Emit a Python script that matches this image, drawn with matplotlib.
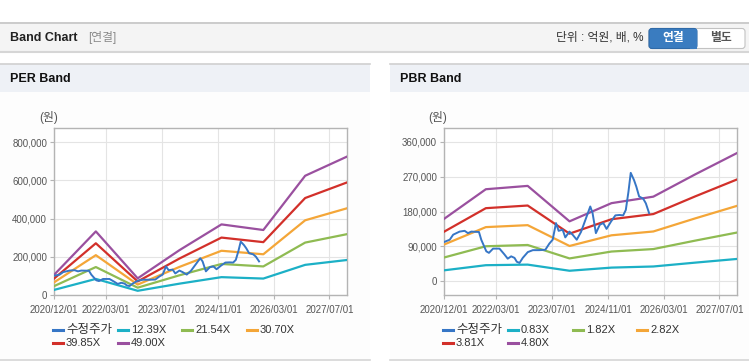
import matplotlib
matplotlib.use("Agg")
import matplotlib.pyplot as plt
import matplotlib.dates as mdates
from matplotlib.patches import Rectangle, FancyBboxPatch
from matplotlib.lines import Line2D
from matplotlib.ticker import FuncFormatter
import numpy as np
import pandas as pd

plt.rcParams['font.family'] = ['Liberation Sans', 'Noto Sans CJK KR', 'DejaVu Sans']

###############################################################################
# data
band_dates = ["2020-12-01", "2021-12-01", "2022-12-01", "2023-12-01",
              "2024-12-01", "2025-12-01", "2026-12-01", "2027-12-01"]
per_eps = [2150, 6800, 1780, 4800, 7550, 6950, 12750, 14800]
per_multiples = [12.39, 21.54, 30.70, 39.85, 49.00]
pbr_bps = [33500, 49500, 51300, 32200, 42000, 45500, 57500, 69000]
pbr_multiples = [0.83, 1.82, 2.82, 3.81, 4.80]

price_dates = [
    "2020-12-01", "2021-01-20", "2021-02-19", "2021-04-16", "2021-05-30",
    "2021-06-28", "2021-07-27", "2021-10-02", "2021-10-22", "2021-12-05",
    "2021-12-28", "2022-02-02", "2022-03-30", "2022-05-12", "2022-06-10",
    "2022-07-10", "2022-08-08", "2022-08-28", "2022-09-21", "2022-10-19",
    "2022-12-02", "2023-01-15", "2023-03-12", "2023-05-04", "2023-06-08",
    "2023-07-07", "2023-08-05", "2023-08-28", "2023-10-02", "2023-10-25",
    "2023-11-30", "2023-12-28", "2024-02-02", "2024-03-10", "2024-04-22",
    "2024-05-30", "2024-06-19", "2024-07-18", "2024-08-22", "2024-09-21",
    "2024-10-19", "2024-11-27", "2025-01-04", "2025-02-08", "2025-03-13",
    "2025-04-05", "2025-04-28", "2025-05-18", "2025-06-16", "2025-07-06",
    "2025-07-30", "2025-09-04", "2025-09-27", "2025-10-25"]
price_k = [
    101, 107, 120, 128, 130, 124, 128, 127, 107, 77,
    73, 84, 84, 69, 58, 64, 60, 50, 47, 60,
    75, 80, 80, 81, 97, 107, 150, 130, 133, 113,
    128, 120, 107, 127, 162, 193, 176, 124, 146, 150,
    135, 154, 170, 171, 170, 184, 231, 280, 261, 244,
    219, 213, 201, 176]

xtick_dates = ["2020-12-01", "2022-03-01", "2023-07-01", "2024-11-01",
               "2026-03-01", "2027-07-01"]

price_label = "수정주가"
band_colors = ["#1cb0c6", "#8fbb52", "#f4a638", "#d2302a", "#9a509f"]
price_color = "#3676c6"

###############################################################################
W, H = 749, 364
fig = plt.figure(figsize=(W / 100, H / 100), dpi=100)

# background layer in pixel coordinates
bg = fig.add_axes([0, 0, 1, 1], zorder=0)
bg.set_xlim(0, W)
bg.set_ylim(H, 0)
bg.axis("off")

# top header strip
bg.add_patch(Rectangle((0, 22), W, 30, facecolor="#f4f4f4", edgecolor="none"))
bg.plot([0, W], [22.5, 22.5], color="#c4c4c4", lw=1.2)
bg.plot([0, W], [52, 52], color="#d6d6d6", lw=1.5)
bg.text(10, 38, "Band Chart", fontsize=9, fontweight="bold", color="#222222", va="center")
bg.text(88, 38, "[연결]", fontsize=8.5, color="#8a8a8a", va="center")
bg.text(643, 38, "단위 : 억원, 배, %", fontsize=8.5, color="#333333", va="center", ha="right")

# buttons
bg.add_patch(FancyBboxPatch((649, 28.5), 96, 20, boxstyle="round,pad=0,rounding_size=3",
                            facecolor="white", edgecolor="#c2c2c2", lw=0.8))
bg.add_patch(FancyBboxPatch((649, 28.5), 48, 20, boxstyle="round,pad=0,rounding_size=3",
                            facecolor="#3a7cc0", edgecolor="#2f6aa8", lw=0.8))
bg.add_patch(Rectangle((690, 28.5), 7, 20, facecolor="#3a7cc0", edgecolor="none"))
bg.text(673, 38.5, "연결", fontsize=8.5, fontweight="bold", color="white", ha="center", va="center")
bg.text(721, 38.5, "별도", fontsize=8.5, fontweight="bold", color="#555555", ha="center", va="center")

# panels
for x0, x1, title in [(0, 370, "PER Band"), (390, W, "PBR Band")]:
    bg.add_patch(Rectangle((x0, 64), x1 - x0, 28, facecolor="#eef1f6", edgecolor="none"))
    bg.add_patch(Rectangle((x0, 92), x1 - x0, 268, facecolor="#fdfdfd", edgecolor="none"))
    bg.plot([x0, x1], [64, 64], color="#d0d0d0", lw=1.2)
    bg.plot([x0, x1], [360, 360], color="#d6d6d6", lw=1.2)
    bg.text(x0 + 10, 79, title, fontsize=9, fontweight="bold", color="#111111", va="center")


def px_axes(l, t, r, b):
    return fig.add_axes([l / W, 1 - b / H, (r - l) / W, (b - t) / H], zorder=1)


def draw_band(ax, base, multiples, ylim, yticks):
    dates = pd.to_datetime(band_dates)
    for m, c in zip(multiples, band_colors):
        ax.plot(dates, np.array(base) * m, color=c, lw=1.6, zorder=3)
    ax.plot(pd.to_datetime(price_dates), np.array(price_k) * 1000, color=price_color,
            lw=1.4, zorder=4)
    ax.set_xlim(pd.Timestamp("2020-12-01"), pd.Timestamp("2027-12-01"))
    ax.set_ylim(*ylim)
    ax.set_yticks(yticks)
    ax.yaxis.set_major_formatter(FuncFormatter(lambda v, p: f"{int(v):,}"))
    ax.set_xticks(pd.to_datetime(xtick_dates))
    ax.xaxis.set_major_formatter(mdates.DateFormatter("%Y/%m/%d"))
    ax.grid(True, color="#e4e4e4", lw=0.8, zorder=0)
    ax.set_axisbelow(True)
    for s in ax.spines.values():
        s.set_color("#b4b4b4")
        s.set_linewidth(1.0)
    ax.tick_params(axis="both", colors="#b4b4b4", labelcolor="#555555", labelsize=7,
                   length=3, width=0.8)
    ax.tick_params(axis="x", pad=4)
    ax.tick_params(axis="y", pad=2)
    ax.set_facecolor("white")


ax1 = px_axes(54, 128, 347, 295)
draw_band(ax1, per_eps, per_multiples, (0, 875000), [0, 200000, 400000, 600000, 800000])
ax2 = px_axes(444, 128, 737, 295)
draw_band(ax2, pbr_bps, pbr_multiples, (-36000, 396000), [0, 90000, 180000, 270000, 360000])

bg.text(49, 117, "(원)", fontsize=8.5, color="#555555", ha="center", va="center")
bg.text(438, 117, "(원)", fontsize=8.5, color="#555555", ha="center", va="center")


def legend_item(x, y, color, label):
    bg.add_line(Line2D([x, x + 10], [y, y], color=color, lw=2.2))
    size = 9 if label == price_label else 8
    bg.text(x + 13, y, label, fontsize=size, color="#333333", va="center")


per_labels = [price_label] + [f"{m:.2f}X" for m in per_multiples]
pbr_labels = [price_label] + [f"{m:.2f}X" for m in pbr_multiples]
colors = [price_color] + band_colors
per_pos = [(53, 330), (118, 330), (182, 330), (247, 330), (53, 343), (118, 343)]
pbr_pos = [(443, 330), (508, 330), (573, 330), (637, 330), (443, 343), (508, 343)]
for (x, y), c, lab in zip(per_pos, colors, per_labels):
    legend_item(x, y, c, lab)
for (x, y), c, lab in zip(pbr_pos, colors, pbr_labels):
    legend_item(x, y, c, lab)

fig.savefig("out.png", dpi=100)
